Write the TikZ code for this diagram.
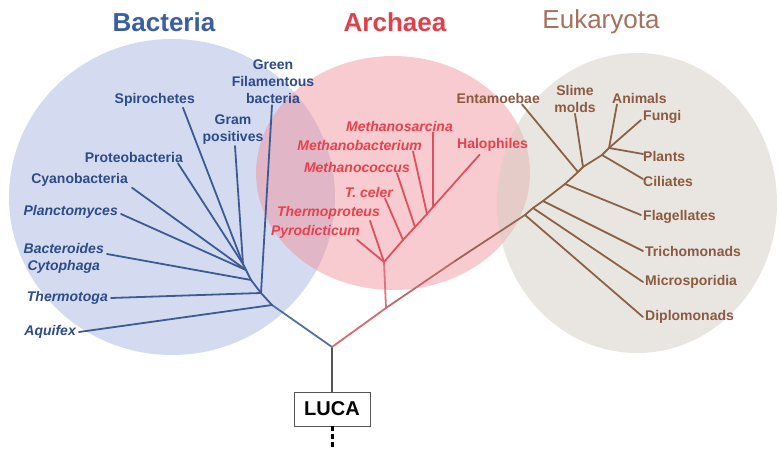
\documentclass[tikz,border=0pt]{standalone}
\usepackage{fontspec}
\setmainfont{Liberation Sans}
\usepackage{tikz}

\definecolor{bactfill}{HTML}{A9B8E2}
\definecolor{archfill}{HTML}{F08C96}
\definecolor{eukfill}{HTML}{D4CEC4}
\definecolor{bacttext}{HTML}{2D4A8A}
\definecolor{archtext}{HTML}{E8414C}
\definecolor{euktext}{HTML}{8B5A40}
\definecolor{bactline}{HTML}{3D5A95}
\definecolor{archline}{HTML}{E0505C}
\definecolor{eukline}{HTML}{8B6248}
\definecolor{bacttitle}{HTML}{3A5EA0}
\definecolor{archtitle}{HTML}{E0404A}
\definecolor{euktitle}{HTML}{A5705E}
\definecolor{trunkgray}{HTML}{555555}
\definecolor{rootblue}{HTML}{5470A0}
\definecolor{rootred}{HTML}{D86A6C}
\definecolor{archstem}{HTML}{E0727A}
\definecolor{redbrown}{HTML}{C06A64}
\definecolor{midbrown}{HTML}{9A6652}

\tikzset{
  lab/.style={font=\bfseries\fontsize{14}{17}\selectfont, inner sep=1pt, align=center},
  blab/.style={lab, text=bacttext},
  alab/.style={lab, text=archtext},
  elab/.style={lab, text=euktext},
  itlab/.style={font=\bfseries\itshape\fontsize{14}{17}\selectfont},
  branch/.style={line width=1.8pt, line cap=round, line join=round},
}

\begin{document}
\begin{tikzpicture}[x=1pt,y=-1pt]
\useasboundingbox (0,0) rectangle (780,449);

%% domains
\fill[bactfill, fill opacity=.5] (172,197) ellipse (163 and 158);
\fill[archfill, fill opacity=.45] (393,173) ellipse (137 and 117);
\fill[eukfill, fill opacity=.5] (637,203) ellipse (140 and 150);

%% titles
\node[font=\bfseries\fontsize{26}{30}\selectfont, text=bacttitle] (tbact) at (164,22) {Bacteria};
\node[font=\bfseries\fontsize{26}{30}\selectfont, text=archtitle] (tarch) at (395,22) {Archaea};
\node[font=\fontsize{26}{30}\selectfont, text=euktitle] (teuk) at (601,22) {Eukaryota};

%% bacteria labels
\node[blab] (green) at (273,82) {Green\\Filamentous\\bacteria};
\node[blab] (gram) at (233,130) {Gram\\positives};
\node[blab, anchor=east] (spiro) at (196,100) {Spirochetes};
\node[blab, anchor=east] (proteo) at (184,157) {Proteobacteria};
\node[blab, anchor=east] (cyano) at (129,180) {Cyanobacteria};
\node[blab, itlab, anchor=east] (plancto) at (119,212) {Planctomyces};
\node[blab, itlab, anchor=east] (bactero) at (105,258) {Bacteroides\\Cytophaga};
\node[blab, itlab, anchor=east] (thermo) at (109,298) {Thermotoga};
\node[blab, itlab, anchor=east] (aquifex) at (77,332) {Aquifex};

%% archaea labels
\node[alab, itlab, anchor=east] (msarc) at (454,126) {Methanosarcina};
\node[alab, itlab, anchor=east] (mbact) at (423,145) {Methanobacterium};
\node[alab, itlab, anchor=east] (mcocc) at (411,167) {Methanococcus};
\node[alab, itlab, anchor=east] (tceler) at (394,192) {T. celer};
\node[alab, itlab, anchor=east] (thermop) at (381,213) {Thermoproteus};
\node[alab, itlab, anchor=east] (pyro) at (361,232) {Pyrodicticum};
\node[alab, anchor=west] (halo) at (456,145) {Halophiles};

%% eukaryota labels
\node[elab, anchor=east] (entam) at (541,98) {Entamoebae};
\node[elab] (slime) at (575,99) {Slime\\molds};
\node[elab, anchor=west] (animals) at (611,98) {Animals};
\node[elab, anchor=west] (fungi) at (642,117) {Fungi};
\node[elab, anchor=west] (plants) at (642,156) {Plants};
\node[elab, anchor=west] (ciliates) at (642,181) {Ciliates};
\node[elab, anchor=west] (flag) at (642,217) {Flagellates};
\node[elab, anchor=west] (tricho) at (644,251) {Trichomonads};
\node[elab, anchor=west] (micro) at (644,282) {Microsporidia};
\node[elab, anchor=west] (diplo) at (644,317) {Diplomonads};

%% LUCA
\node[draw=trunkgray, line width=0.9pt, fill=white, minimum width=76, minimum height=34,
      font=\bfseries\fontsize{20}{22}\selectfont] (luca) at (332,409) {LUCA};
\coordinate (bottom) at (332,449);

%% branch points
\coordinate (root) at (332,347);
\coordinate (b1) at (272,305);
\coordinate (b2) at (261,293);
\coordinate (b3) at (251,280);
\coordinate (b4) at (246,270);
\coordinate (b5) at (243,264);
\coordinate (e0) at (386,308);
\coordinate (a0) at (384,262);
\coordinate (a1) at (403,240);
\coordinate (a2) at (415,227);
\coordinate (a3) at (427,214);
\coordinate (a4) at (433,207);
\coordinate (emid) at (455,261);
\coordinate (e1) at (525,215);
\coordinate (e2) at (533,208);
\coordinate (e3) at (543,201);
\coordinate (e4) at (565,184);
\coordinate (e5) at (578,172);
\coordinate (e6) at (583,167);
\coordinate (e7) at (602,155);
\coordinate (e8) at (609,148);

%% trunk
\draw[branch, trunkgray] (luca.north) -- (root);
\draw[line width=3pt, dash pattern=on 5pt off 3pt] (luca.south) -- (bottom);

%% bacteria
\draw[branch, rootblue] (root) -- (b1);
\draw[branch, bactline] (b1) -- (b2) -- (b3) -- (b4) -- (b5);
\draw[branch, bactline] ([xshift=2pt]aquifex.east) -- (b1);
\draw[branch, bactline] ([xshift=2pt]thermo.east) -- (b2);
\draw[branch, bactline] ([xshift=-1pt]green.south) -- (b2);
\draw[branch, bactline] ([xshift=2pt,yshift=4pt]bactero.east) -- (b3);
\draw[branch, bactline] ([xshift=2pt,yshift=-2pt]plancto.east) -- (b4);
\draw[branch, bactline] ([xshift=3pt]cyano.south east) -- (b4);
\draw[branch, bactline] ([xshift=-6pt]proteo.south east) -- (b5);
\draw[branch, bactline] ([xshift=-13pt]spiro.south east) -- (b5);
\draw[branch, bactline] ([xshift=2pt]gram.south) -- (b5);

%% archaea
\draw[branch, rootred] (root) -- (e0);
\draw[branch, archstem] (e0) -- (a0);
\draw[branch, archline] (a0) -- (a1) -- (a2) -- (a3) -- (a4) -- ([xshift=-13pt,yshift=-2pt]halo.south);
\draw[branch, archline] ([xshift=-4pt]pyro.south east) -- (a0);
\draw[branch, archline] ([xshift=-11pt]thermop.south east) -- (a0);
\draw[branch, archline] ([xshift=-9pt]tceler.south east) -- (a1);
\draw[branch, archline] ([xshift=-14pt]mcocc.south east) -- (a2);
\draw[branch, archline] ([xshift=-10pt]mbact.south east) -- (a3);
\draw[branch, archline] ([xshift=-21pt]msarc.south east) -- (a4);

%% eukaryota
\draw[branch, redbrown] (e0) -- (emid);
\draw[branch, midbrown] (emid) -- (e1);
\draw[branch, eukline] (e1) -- (e2) -- (e3) -- (e4) -- (e5) -- (e6) -- (e7) -- (e8) -- ([xshift=-1pt,yshift=-3pt]fungi.west);
\draw[branch, eukline] ([xshift=-1pt]diplo.west) -- (e1);
\draw[branch, eukline] ([xshift=-1pt]micro.west) -- (e2);
\draw[branch, eukline] ([xshift=-1pt]tricho.west) -- (e3);
\draw[branch, eukline] ([xshift=-1pt,yshift=2pt]flag.west) -- (e4);
\draw[branch, eukline] ([xshift=-19pt]entam.south east) -- (e5);
\draw[branch, eukline] (slime.south) -- (e6);
\draw[branch, eukline] ([xshift=1pt,yshift=2pt]ciliates.west) -- (e7);
\draw[branch, eukline] ([xshift=1pt,yshift=2pt]plants.west) -- (e8);
\draw[branch, eukline] ([xshift=6pt]animals.south west) -- (e8);

\end{tikzpicture}
\end{document}
